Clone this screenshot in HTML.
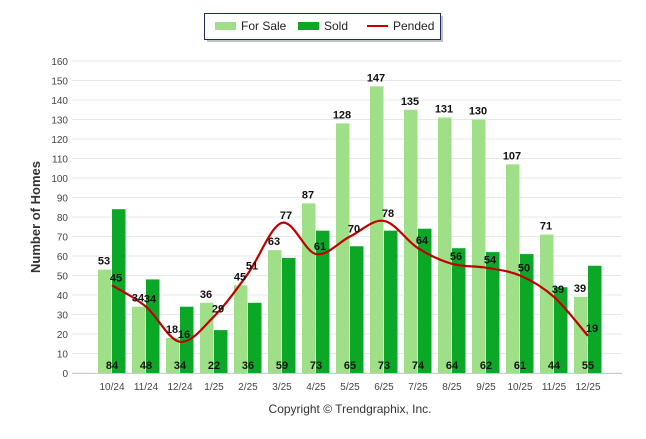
<!DOCTYPE html>
<html><head><meta charset="utf-8"><style>
body{margin:0;background:#fff;width:646px;height:434px;overflow:hidden;font-family:"Liberation Sans",sans-serif}
</style></head><body>
<svg width="646" height="434" xmlns="http://www.w3.org/2000/svg">
<g id="grid"></g>
<g id="bars"></g>
<g id="line"></g>
<g id="labels"></g>
<text x="40" y="217" transform="rotate(-90 40 217)" text-anchor="middle" font-size="13" font-weight="bold" fill="#333">Number of Homes</text>
<text x="350" y="413" text-anchor="middle" font-size="12" fill="#333">Copyright © Trendgraphix, Inc.</text>
<g>
<rect x="207" y="16" width="236" height="26" fill="#999" opacity="0.6"/>
<rect x="204.5" y="13.5" width="236" height="26" fill="#fff" stroke="#1a2e5a" stroke-width="1"/>
<rect x="215" y="22" width="21" height="8" fill="#9fdf88"/>
<text x="241" y="30" font-size="12" fill="#222">For Sale</text>
<rect x="298" y="22" width="21" height="8" fill="#0ba828"/>
<text x="324" y="30" font-size="12" fill="#222">Sold</text>
<line x1="367" y1="26" x2="388" y2="26" stroke="#c00000" stroke-width="2"/>
<text x="393" y="30" font-size="12" fill="#222">Pended</text>
</g>
</svg>
<script>
const categories=["10/24","11/24","12/24","1/25","2/25","3/25","4/25","5/25","6/25","7/25","8/25","9/25","10/25","11/25","12/25"];
const forSale=[53,34,18,36,45,63,87,128,147,135,131,130,107,71,39];
const sold=[84,48,34,22,36,59,73,65,73,74,64,62,61,44,55];
const pended=[45,34,16,29,51,77,61,70,78,64,56,54,50,39,19];
const yTicks=[0,10,20,30,40,50,60,70,80,90,100,110,120,130,140,150,160];
const NS="http://www.w3.org/2000/svg";
function y(v){return 373-v*(312/160);}
function x(i){return 112+i*34;}
function mk(t,a,p){const e=document.createElementNS(NS,t);for(const k in a)e.setAttribute(k,a[k]);p.appendChild(e);return e;}
const grid=document.getElementById('grid');
yTicks.forEach(t=>{
 const l=mk('line',{x1:72,x2:622,y1:y(t),y2:y(t),stroke:'#e8e8e8','stroke-width':1},grid);
 
 
 const tx=mk('text',{x:68,y:y(t)+4,'text-anchor':'end','font-size':10,fill:'#444'},grid);
 tx.textContent=t;
 
 
});
const ax=mk('line',{x1:72,x2:622,y1:373.5,y2:373.5,stroke:'#ccc'},grid);


const bars=document.getElementById('bars'),labels=document.getElementById('labels');
categories.forEach((c,i)=>{
 const b1=mk('rect',{x:x(i)-14,y:y(forSale[i]),width:13.5,height:373-y(forSale[i]),fill:'#9fdf88'},bars);
 
 
 const b2=mk('rect',{x:x(i),y:y(sold[i]),width:13.5,height:373-y(sold[i]),fill:'#0ba828'},bars);
 
 
 const tk=mk('text',{x:x(i),y:390,'text-anchor':'middle','font-size':10,fill:'#444'},labels);
 tk.textContent=c;
 
 
 const l1=mk('text',{x:x(i)-8,y:y(forSale[i])-5,'text-anchor':'middle','font-size':11,'font-weight':'bold',fill:'#111'},labels);
 l1.textContent=forSale[i];
 
 
 const l2=mk('text',{x:x(i),y:369,'text-anchor':'middle','font-size':11,'font-weight':'bold',fill:'#111'},labels);
 l2.textContent=sold[i];
 
 
 const l3=mk('text',{x:x(i)+4,y:y(pended[i])-4,'text-anchor':'middle','font-size':11,'font-weight':'bold',fill:'#111'},labels);
 l3.textContent=pended[i];
 
 
});
// smooth line (Catmull-Rom)
const pts=pended.map((v,i)=>[x(i),y(v)]);
let d='M'+pts[0][0]+','+pts[0][1];
for(let i=0;i<pts.length-1;i++){
 const p0=pts[Math.max(0,i-1)],p1=pts[i],p2=pts[i+1],p3=pts[Math.min(pts.length-1,i+2)];
 const c1=[p1[0]+(p2[0]-p0[0])/6,p1[1]+(p2[1]-p0[1])/6],c2=[p2[0]-(p3[0]-p1[0])/6,p2[1]-(p3[1]-p1[1])/6];
 d+=' C'+c1+' '+c2+' '+p2;
}
const path=mk('path',{d:d,fill:'none',stroke:'#c00000','stroke-width':2.2},document.getElementById('line'));


</script>
</body></html>
